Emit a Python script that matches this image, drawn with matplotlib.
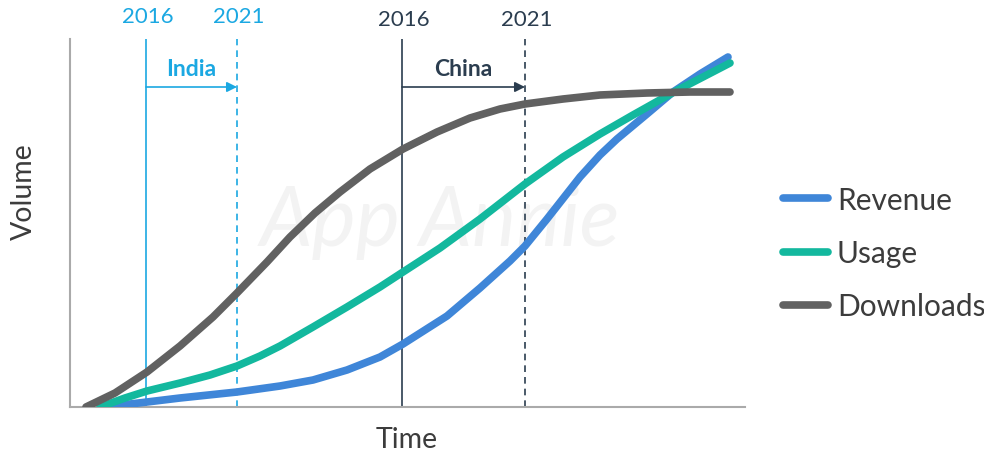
import numpy as np
import matplotlib.pyplot as plt

plt.rcParams['font.family'] = ['Lato', 'DejaVu Sans']

# curves (x: time position, y: volume height)
dl_x = [86, 115, 147, 180, 213, 237, 267, 290, 315, 340, 370, 403, 437, 470, 500, 525, 563, 600, 647, 690, 730]
dl_y = [0, 14, 35, 61, 90, 114, 145, 170, 194, 215, 238, 258, 275, 289, 298, 303, 308, 312, 314, 315, 315]
us_x = [100, 125, 147, 180, 210, 237, 260, 280, 313, 347, 380, 403, 440, 480, 525, 563, 600, 633, 674, 730]
us_y = [0, 9, 16, 24, 32, 41, 51, 61, 80, 100, 120, 135, 159, 188, 223, 250, 273, 292, 315, 344]
rv_x = [105, 147, 180, 237, 280, 313, 347, 380, 403, 447, 480, 510, 525, 547, 580, 600, 617, 647, 673, 700, 728]
rv_y = [0, 5, 9, 15, 21, 27, 37, 50, 63, 91, 119, 146, 161, 188, 230, 252, 268, 293, 315, 333, 350]

india = [146, 237]
china = [402, 525]
years = ["2016", "2021"]

c_rev = "#3f86d8"
c_use = "#13b89e"
c_dl = "#616161"
c_india = "#1ba8e2"
c_china = "#2b3d4f"
c_text = "#3c3c3c"

fig = plt.figure(figsize=(9.84, 4.56), dpi=100)
ax = fig.add_axes([70/984, 48/456, 675/984, 368/456])
ax.set_xlim(70, 745)
ax.set_ylim(0, 368)

# faint watermark
ax.text(440, 185, "App Annie", fontsize=60, style="italic", color="#f3f3f3",
        ha="center", va="center", zorder=0)

for x0, x1, col, name, ty in [(india[0], india[1], c_india, "India", 391),
                              (china[0], china[1], c_china, "China", 388)]:
    ax.axvline(x0, color=col, lw=1.2, zorder=1)
    ax.axvline(x1, color=col, lw=1.2, ls=(0, (4, 3)), zorder=1)
    ax.annotate("", xy=(x1, 320), xytext=(x0, 320),
                arrowprops=dict(arrowstyle="-|>", color=col, lw=1.2,
                                mutation_scale=15, shrinkA=0, shrinkB=0))
    ax.text((x0 + x1) / 2, 339, name, color=col, fontsize=16.5, weight="bold",
            ha="center", va="center")
    for xx, yr in zip([x0, x1], years):
        ax.text(xx + 2, ty, yr, color=col, fontsize=16,
                ha="center", va="center", clip_on=False)

kw = dict(lw=5.5, solid_capstyle="round", solid_joinstyle="round", zorder=3)
ax.plot(rv_x, rv_y, color=c_rev, label="Revenue", **kw)
ax.plot(us_x, us_y, color=c_use, label="Usage", **kw)
ax.plot(dl_x, dl_y, color=c_dl, label="Downloads", **kw)

for s in ["top", "right"]:
    ax.spines[s].set_visible(False)
for s in ["left", "bottom"]:
    ax.spines[s].set_color("#aaaaaa")
    ax.spines[s].set_linewidth(1.5)
ax.set_xticks([])
ax.set_yticks([])

fig.text(407/984, 1 - 440/456, "Time", fontsize=20.5, color=c_text, ha="center", va="center")
fig.text(24/984, 1 - 192/456, "Volume", fontsize=20.5, color=c_text, ha="center", va="center",
         rotation=90)

leg = fig.legend(loc="center left", bbox_to_anchor=(783/984, (456-254)/456), frameon=False,
                 fontsize=21.5, handlelength=1.5, handletextpad=0.3, labelspacing=0.85,
                 borderpad=0, borderaxespad=0)
for t in leg.get_texts():
    t.set_color(c_text)

fig.savefig("out.png", dpi=100)
